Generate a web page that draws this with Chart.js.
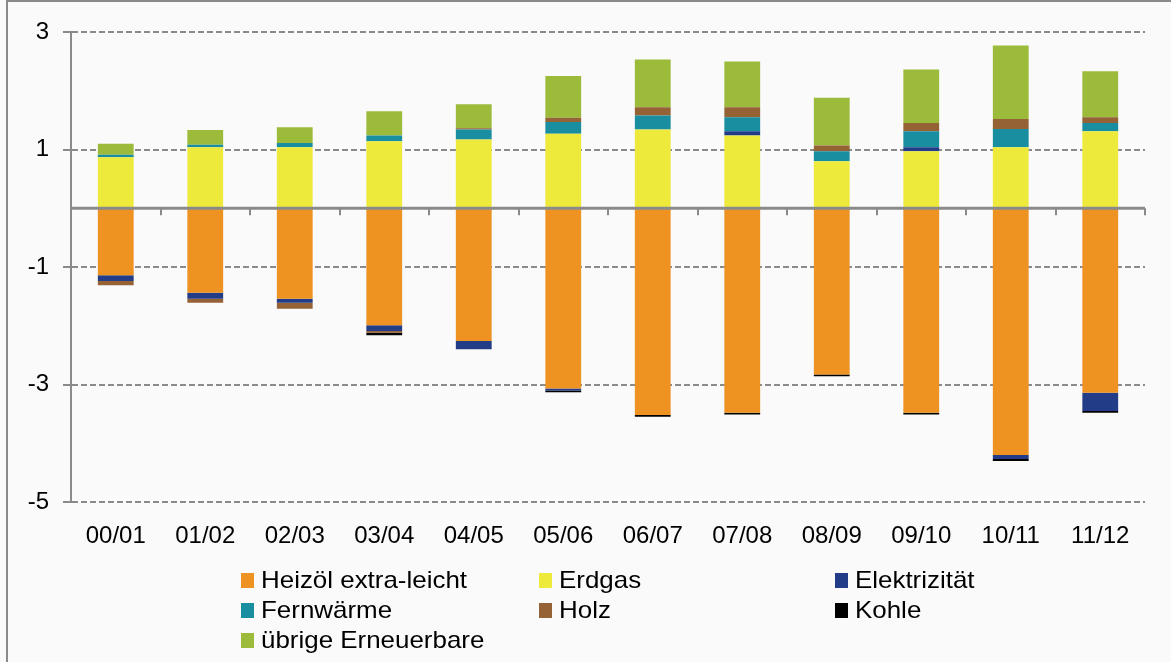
<!DOCTYPE html>
<html>
<head>
<meta charset="utf-8">
<script src="https://cdn.jsdelivr.net/npm/chart.js@4"></script>
<style>
body { margin: 0; background: #f9faf9; }
#wrap { position: relative; width: 1171px; height: 662px; overflow: hidden; }
#frame { position: absolute; left: 6px; top: 0; width: 1200px; height: 700px;
  border-left: 2px solid #8a8a8a; border-top: 2px solid #8a8a8a; }
canvas { position: absolute; left: 0; top: 0; }
.leg { position: absolute; height: 30px; display: flex; align-items: center;
  font: 24px "Liberation Sans", Arial, sans-serif; color: #000; white-space: nowrap; }
.leg .box { display: inline-block; width: 13px; height: 15px; margin-right: 7px; }
.leg .txt { display: inline-block; transform: scaleX(1.08); transform-origin: left center; }
</style>
</head>
<body>
<div id="wrap">
  <div id="frame"></div>
  <canvas id="chart" width="1171" height="662"></canvas>
  <div id="legend"></div>
</div>
<script>
// Heizperioden
const labels = ['00/01', '01/02', '02/03', '03/04', '04/05', '05/06', '06/07', '07/08', '08/09', '09/10', '10/11', '11/12'];

// Veränderung je Energieträger
const heizoel = [-1.14, -1.44, -1.54, -1.99, -2.26, -3.07, -3.52, -3.48, -2.83, -3.48, -4.20, -3.14];
const erdgas = [0.87, 1.04, 1.04, 1.14, 1.17, 1.27, 1.34, 1.24, 0.80, 0.97, 1.04, 1.31];
const elektrizitaet = [-0.10, -0.10, -0.07, -0.10, -0.14, -0.03, 0, 0.07, 0, 0.07, -0.07, -0.31];
const fernwaerme = [0.04, 0.04, 0.07, 0.10, 0.17, 0.20, 0.24, 0.24, 0.17, 0.27, 0.31, 0.14];
const holz = [-0.07, -0.07, -0.10, -0.03, 0.02, 0.07, 0.14, 0.17, 0.10, 0.14, 0.17, 0.10];
const kohle = [0, 0, 0, -0.04, 0, -0.03, -0.03, -0.03, -0.03, -0.03, -0.03, -0.03];
const uebrige = [0.19, 0.25, 0.27, 0.41, 0.41, 0.71, 0.81, 0.78, 0.81, 0.91, 1.25, 0.78];

const yTicks = [-5, -3, -1, 1, 3];

const gray = '#8a8a8a';
const fontFamily = '"Liberation Sans", Arial, sans-serif';

const series = [
    { label: 'Heizöl extra-leicht', data: heizoel, color: '#ee9222' },
    { label: 'Erdgas', data: erdgas, color: '#eeea3c' },
    { label: 'Elektrizität', data: elektrizitaet, color: '#233c88' },
    { label: 'Fernwärme', data: fernwaerme, color: '#1a8ea1' },
    { label: 'Holz', data: holz, color: '#946235' },
    { label: 'Kohle', data: kohle, color: '#000000' },
    { label: 'übrige Erneuerbare', data: uebrige, color: '#9dbb3a' },
];

// zero line with the category tick marks
const zeroLine = {
    id: 'zeroLine',
    afterDatasetsDraw(chart) {
        const { ctx, chartArea, scales: { y } } = chart;
        const y0 = y.getPixelForValue(0);
        const step = chartArea.width / labels.length;
        ctx.save();
        ctx.strokeStyle = gray;
        ctx.lineWidth = 3;
        ctx.beginPath();
        ctx.moveTo(chartArea.left, y0);
        ctx.lineTo(chartArea.right, y0);
        ctx.stroke();
        ctx.lineWidth = 2;
        ctx.beginPath();
        for (let i = 1; i <= labels.length; i++) {
            const xx = Math.round(chartArea.left + i * step);
            ctx.moveTo(xx, y0);
            ctx.lineTo(xx, y0 + 7);
        }
        ctx.stroke();
        ctx.restore();
    }
};

const chart = new Chart(document.getElementById('chart'), {
    type: 'bar',
    data: {
        labels: labels,
        datasets: series.map(s => ({
            label: s.label,
            data: s.data,
            backgroundColor: s.color,
            borderWidth: 0,
            categoryPercentage: 0.4,
            barPercentage: 1,
        })),
    },
    options: {
        responsive: false,
        animation: false,
        devicePixelRatio: 1,
        layout: { padding: { left: 0, top: 32, right: 26, bottom: 0 } },
        plugins: {
            legend: { display: false },
            tooltip: { enabled: false },
        },
        scales: {
            x: {
                stacked: true,
                grid: { display: false, drawTicks: false },
                border: { display: false },
                ticks: { color: '#000', font: { size: 24, family: fontFamily }, padding: 20, maxRotation: 0 },
                afterFit(scale) { scale.height = 160; },
            },
            y: {
                stacked: true,
                min: -5,
                max: 3,
                afterBuildTicks(scale) { scale.ticks = yTicks.map(v => ({ value: v })); },
                ticks: { color: '#000', font: { size: 24, family: fontFamily }, padding: 14 },
                grid: { color: gray, lineWidth: 2, tickLength: 8, tickColor: gray },
                border: { display: true, color: gray, width: 2, dash: c => (c.tick ? [6, 3] : []) },
                afterFit(scale) { scale.width = 71; },
            },
        },
    },
    plugins: [zeroLine],
});

// legend in three columns
const legendCols = [241, 539, 835];
const legendEl = document.getElementById('legend');
series.forEach((s, i) => {
    const item = document.createElement('div');
    item.className = 'leg';
    item.style.left = legendCols[i % 3] + 'px';
    item.style.top = (565 + 30 * Math.floor(i / 3)) + 'px';
    item.innerHTML = '<span class="box" style="background:' + s.color + '"></span><span class="txt">' + s.label + '</span>';
    legendEl.appendChild(item);
});
</script>
</body>
</html>
